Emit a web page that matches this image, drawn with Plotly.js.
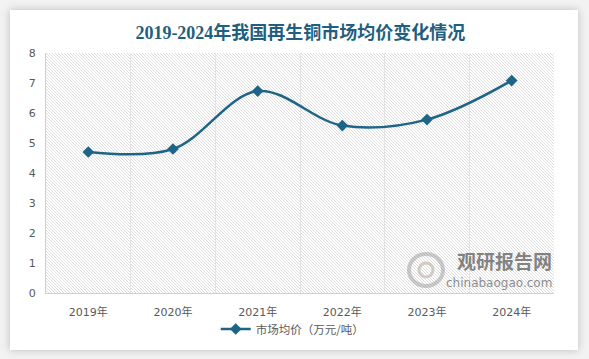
<!DOCTYPE html>
<html>
<head>
<meta charset="utf-8">
<script src="https://cdn.plot.ly/plotly-3.0.1.min.js"></script>
<style>
html,body{margin:0;padding:0;width:589px;height:359px;background:#f2f2f2;overflow:hidden;}
#card{position:absolute;left:10px;top:10px;width:568px;height:340px;background:#fff;box-shadow:0 0 8px rgba(0,0,0,0.22);}
#chart{position:absolute;left:0;top:0;width:589px;height:359px;}
</style>
</head>
<body>
<div id="card"></div>
<div id="chart"></div>
<script>
const years = ["2019年","2020年","2021年","2022年","2023年","2024年"];
const avgPrice = [4.7, 4.8, 6.73, 5.58, 5.78, 7.08];
const yTicks = [0,1,2,3,4,5,6,7,8];
const seriesName = "市场均价（万元/吨）";
const titleText = "2019-2024年我国再生铜市场均价变化情况";

const hatch = 'data:image/svg+xml;charset=utf-8,' + encodeURIComponent(
 '<svg xmlns="http://www.w3.org/2000/svg" width="508" height="240">' +
 '<defs><pattern id="p" width="3" height="3" patternUnits="userSpaceOnUse">' +
 '<path d="M-1,-1 L4,4 M-1,2 L1,4 M2,-1 L4,1" stroke="#d9d9d9" stroke-width="0.9"/></pattern></defs>' +
 '<rect width="508" height="240" fill="#fff"/><rect width="508" height="240" fill="url(#p)"/></svg>');

const trace = {
  x: years, y: avgPrice, name: seriesName, type: "scatter", mode: "lines+markers",
  line: {color: "#1d6588", width: 2.5, shape: "spline", smoothing: 1},
  marker: {symbol: "diamond", size: 9, color: "#1d6588"}
};

const tickFont = {family: "DejaVu Sans, Noto Sans CJK SC, sans-serif", size: 11, color: "#595959"};
const px = v => (v - 46) / 508, py = v => (293 - v) / 240;

const layout = {
  width: 589, height: 359,
  margin: {l: 46, r: 35, t: 53, b: 66},
  paper_bgcolor: "rgba(0,0,0,0)", plot_bgcolor: "rgba(0,0,0,0)",
  title: {text: "<b>" + titleText + "</b>", x: 0.51, xanchor: "center", y: 0.91, yanchor: "middle",
          font: {family: "Liberation Serif, Noto Sans CJK SC, serif", size: 18, color: "#1f5f7f"}},
  xaxis: {type: "category", range: [-0.5, 5.5], tickson: "boundaries", showgrid: true, gridcolor: "#e3e3e3", gridwidth: 1,
          showline: true, linecolor: "#d0d0d0", linewidth: 1, ticks: "", ticklabelstandoff: 9,
          tickfont: tickFont, fixedrange: true},
  yaxis: {range: [0, 8], tickvals: yTicks, showgrid: false, zeroline: false,
          showline: true, linecolor: "#d0d0d0", linewidth: 1, ticks: "", ticklabelstandoff: 7,
          tickfont: tickFont},
  showlegend: true,
  legend: {orientation: "h", x: 0.497, xanchor: "center", xref: "container", y: 1 - 329/359, yref: "container", yanchor: "middle",
           font: {family: "Noto Sans CJK SC, sans-serif", size: 11.5, color: "#595959"}},
  images: [{source: hatch, xref: "paper", yref: "paper", x: 0, y: 1, sizex: 1, sizey: 1,
            xanchor: "left", yanchor: "top", sizing: "stretch", layer: "below"}],
  shapes: [
    {type: "circle", xref: "paper", yref: "paper", x0: px(409), x1: px(443), y0: py(286), y1: py(254),
     line: {color: "rgba(160,160,160,0.55)", width: 4}, fillcolor: "rgba(0,0,0,0)"},
    {type: "circle", xref: "paper", yref: "paper", x0: px(419), x1: px(433), y0: py(277), y1: py(263),
     line: {color: "rgba(185,175,160,0.6)", width: 3}, fillcolor: "rgba(0,0,0,0)"}
  ],
  annotations: [
    {text: "<b>观研报告网</b>", xref: "paper", yref: "paper", x: 1.0, y: py(260), xanchor: "right", yanchor: "middle",
     showarrow: false, font: {family: "Noto Sans CJK SC, sans-serif", size: 19, color: "rgba(110,110,110,0.85)"}},
    {text: "chinabaogao.com", xref: "paper", yref: "paper", x: 1.0, y: py(283), xanchor: "right", yanchor: "middle",
     showarrow: false, font: {family: "DejaVu Sans, sans-serif", size: 12, color: "rgba(120,120,120,0.85)"}}
  ]
};

Plotly.newPlot("chart", [trace], layout, {displayModeBar: false, staticPlot: true});
</script>
</body>
</html>
